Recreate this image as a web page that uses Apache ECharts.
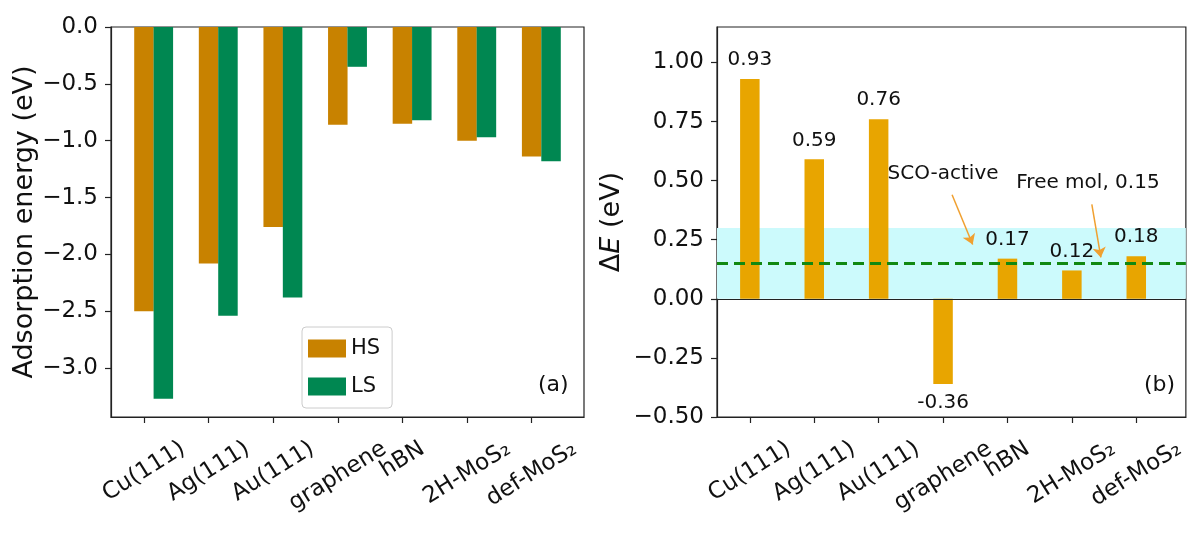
<!DOCTYPE html>
<html>
<head>
<meta charset="utf-8">
<script src="https://cdn.jsdelivr.net/npm/echarts@6/dist/echarts.min.js"></script>
<style>
  html, body { margin: 0; padding: 0; background: #fff; }
  #main { width: 1188px; height: 534px; }
</style>
</head>
<body>
<div id="main"></div>
<script>
// data
const categories = ['Cu(111)', 'Ag(111)', 'Au(111)', 'graphene', 'hBN', '2H-MoS₂', 'def-MoS₂'];
const hsEnergy = [-2.50, -2.08, -1.76, -0.86, -0.85, -1.00, -1.14];
const lsEnergy = [-3.27, -2.54, -2.38, -0.35, -0.82, -0.97, -1.18];
const deltaE = [0.93, 0.59, 0.76, -0.36, 0.17, 0.12, 0.18];
const adsTicks = [0, -0.5, -1.0, -1.5, -2.0, -2.5, -3.0];
const deltaTicks = [1.0, 0.75, 0.5, 0.25, 0, -0.25, -0.5];
const scoWindow = [0, 0.30];
const freeMol = 0.15;

const FONT = '"DejaVu Sans", sans-serif';
const TXT = '#111';
const LABEL_SIZE = 23;
const ROT = 32;
const BAR_OFFSET = 0.3; // LS bar sits one bar width right of HS

const idx = categories.map((c, i) => i);
const minus = s => s.replace('-', '\u2212');

// matplotlib-style rotated labels: centred under the tick, top of box at a fixed gap
const ctx = document.createElement('canvas').getContext('2d');
ctx.font = LABEL_SIZE + 'px "DejaVu Sans"';
const sin = Math.sin(ROT * Math.PI / 180), cos = Math.cos(ROT * Math.PI / 180);
const catRich = {};
categories.forEach((c, i) => {
  const d = ctx.measureText(c).width / 2 * sin;
  catRich['c' + i] = {
    fontSize: LABEL_SIZE, fontFamily: FONT, color: TXT,
    padding: [2 * d * cos, 2 * d * sin, 0, 0]
  };
});

const myChart = echarts.init(document.getElementById('main'));

const catAxis = (gridIndex, min, max) => ({
  type: 'value', gridIndex, min, max,
  splitLine: { show: false },
  axisLine: { onZero: false, lineStyle: { color: '#222', width: 1.2 } },
  axisTick: { customValues: idx, length: 6, lineStyle: { color: '#222', width: 1.2 } },
  axisLabel: {
    customValues: idx, rotate: ROT, align: 'center', verticalAlign: 'middle', margin: 30,
    formatter: v => '{c' + v + '|' + categories[v] + '}',
    rich: catRich
  }
});

const valAxis = (gridIndex, min, max, ticks, digits, name, nameGap, nameRich) => ({
  type: 'value', gridIndex, min, max,
  name, nameLocation: 'middle', nameGap,
  nameTextStyle: { fontSize: 27, fontFamily: FONT, color: TXT, rich: nameRich },
  splitLine: { show: false },
  axisLine: { onZero: false, lineStyle: { color: '#222', width: 1.2 } },
  axisTick: { customValues: ticks, length: 6, lineStyle: { color: '#222', width: 1.2 } },
  axisLabel: {
    customValues: ticks, margin: 13, fontSize: 23, fontFamily: FONT, color: TXT,
    formatter: v => minus(v.toFixed(digits))
  }
});

const option = {
  animation: false,
  backgroundColor: '#fff',
  title: [
    { text: '(a)', left: 538, top: 374, padding: 0, textStyle: { fontSize: 22, fontWeight: 'normal', fontFamily: FONT, color: TXT } },
    { text: '(b)', left: 1144, top: 374, padding: 0, textStyle: { fontSize: 22, fontWeight: 'normal', fontFamily: FONT, color: TXT } }
  ],
  legend: {
    data: ['HS', 'LS'],
    orient: 'vertical', left: 302, top: 327,
    icon: 'rect', itemWidth: 38, itemHeight: 18, itemGap: 17,
    padding: [11, 12, 11, 6],
    borderColor: '#ccc', borderWidth: 1, borderRadius: 4,
    textStyle: { fontSize: 21, fontFamily: FONT, color: TXT }
  },
  grid: [
    { left: 111, top: 27, width: 473, height: 390, show: true, borderColor: '#222', borderWidth: 1.2 },
    { left: 717, top: 27, width: 469, height: 390, show: true, borderColor: '#222', borderWidth: 1.2 }
  ],
  xAxis: [catAxis(0, -0.51, 6.81), catAxis(1, -0.51, 6.77)],
  yAxis: [
    valAxis(0, -3.43, 0, adsTicks, 1, 'Adsorption energy (eV)', 72),
    valAxis(1, -0.5, 1.15, deltaTicks, 2, '{d|Δ}{i|E}{d| (eV)}', 92, {
      d: { fontSize: 27, fontFamily: FONT, color: TXT },
      i: { fontSize: 27, fontFamily: FONT, color: TXT, fontStyle: 'italic' }
    })
  ],
  series: [
    {
      name: 'HS', type: 'bar', xAxisIndex: 0, yAxisIndex: 0,
      barWidth: 19.5, barGap: '-100%',
      itemStyle: { color: '#c88200' },
      data: idx.map(i => [i, hsEnergy[i]])
    },
    {
      name: 'LS', type: 'bar', xAxisIndex: 0, yAxisIndex: 0,
      barWidth: 19.5, barGap: '-100%',
      itemStyle: { color: '#008751' },
      data: idx.map(i => [i + BAR_OFFSET, lsEnergy[i]])
    },
    {
      name: 'dE', type: 'bar', xAxisIndex: 1, yAxisIndex: 1,
      barWidth: 19.5,
      itemStyle: { color: '#e8a500' },
      label: {
        show: true, fontSize: 20, fontFamily: FONT, color: TXT, distance: 9,
        formatter: p => p.value[1].toFixed(2)
      },
      data: idx.map(i => ({
        value: [i, deltaE[i]],
        label: { position: deltaE[i] < 0 ? 'bottom' : 'top' }
      })),
      markArea: {
        silent: true,
        itemStyle: { color: '#ccfafc' },
        data: [[{ yAxis: scoWindow[0] }, { yAxis: scoWindow[1] }]]
      },
      markLine: {
        silent: true, symbol: ['none', 'none'], symbolSize: 10,
        label: { show: false },
        data: [
          { yAxis: 0, lineStyle: { color: '#222', width: 1.2, type: 'solid' } },
          { yAxis: freeMol, lineStyle: { color: '#118811', width: 3, type: [11, 6] } },
          [
            { coord: [3.14, 0.44], symbol: 'none', lineStyle: { color: '#f0a030', width: 1.5, type: 'solid' } },
            { coord: [3.46, 0.23], symbol: 'arrow' }
          ],
          [
            { coord: [5.31, 0.40], symbol: 'none', lineStyle: { color: '#f0a030', width: 1.5, type: 'solid' } },
            { coord: [5.45, 0.175], symbol: 'arrow' }
          ]
        ]
      },
      markPoint: {
        silent: true, symbol: 'circle', symbolSize: 0,
        label: { show: true, position: 'inside', fontSize: 20, fontFamily: FONT, color: TXT },
        data: [
          { coord: [3.0, 0.53], label: { formatter: 'SCO-active' } },
          { coord: [5.25, 0.49], label: { formatter: 'Free mol, ' + freeMol.toFixed(2) } }
        ]
      }
    }
  ]
};

option && myChart.setOption(option);
</script>
</body>
</html>
